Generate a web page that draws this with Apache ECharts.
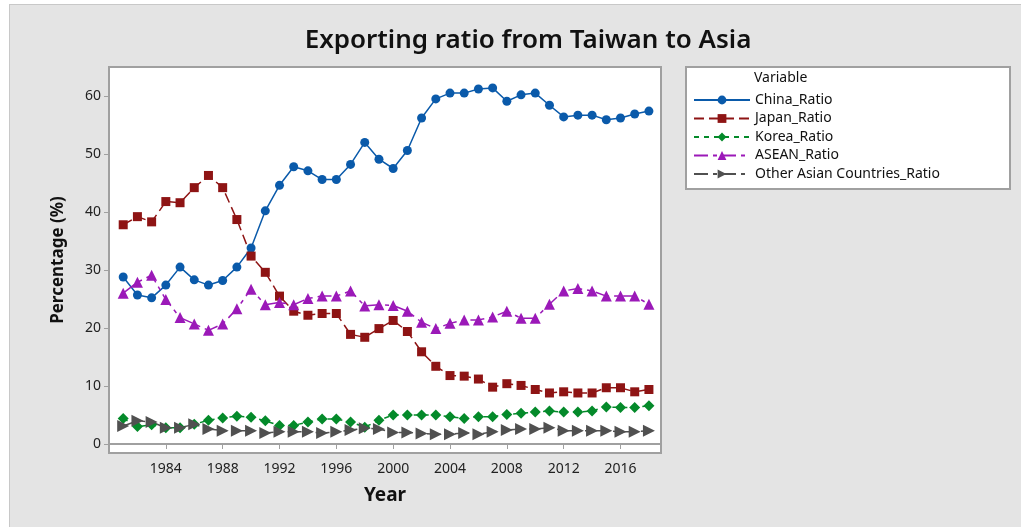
<!DOCTYPE html>
<html>
<head>
<meta charset="utf-8">
<script src="https://cdn.jsdelivr.net/npm/echarts@6/dist/echarts.min.js"></script>
<style>
  html, body { margin: 0; padding: 0; background: #fff; }
  #bg {
    position: absolute; left: 9px; top: 4px; width: 1011px; height: 522px;
    background: #e4e4e4; border: 1px solid #c8c8c8; border-right: none; border-bottom: none;
  }
  #chart { position: absolute; left: 0; top: 0; width: 1021px; height: 527px; }
</style>
</head>
<body>
<div id="bg"></div>
<div id="chart"></div>
<script>
// years 1981 - 2018
const years = [1981, 1982, 1983, 1984, 1985, 1986, 1987, 1988, 1989, 1990,
  1991, 1992, 1993, 1994, 1995, 1996, 1997, 1998, 1999, 2000,
  2001, 2002, 2003, 2004, 2005, 2006, 2007, 2008, 2009, 2010,
  2011, 2012, 2013, 2014, 2015, 2016, 2017, 2018];

const china = [28.8, 25.7, 25.2, 27.4, 30.5, 28.3, 27.4, 28.2, 30.5, 33.8,
  40.2, 44.6, 47.8, 47.1, 45.6, 45.6, 48.2, 52.0, 49.1, 47.5,
  50.6, 56.2, 59.5, 60.5, 60.5, 61.2, 61.4, 59.1, 60.2, 60.5,
  58.4, 56.4, 56.7, 56.7, 55.9, 56.2, 56.9, 57.4];
const japan = [37.8, 39.2, 38.3, 41.8, 41.6, 44.2, 46.3, 44.2, 38.7, 32.4,
  29.6, 25.5, 22.9, 22.2, 22.5, 22.5, 18.9, 18.4, 19.9, 21.3,
  19.4, 15.9, 13.4, 11.8, 11.7, 11.2, 9.8, 10.4, 10.1, 9.4,
  8.8, 9.0, 8.8, 8.8, 9.7, 9.7, 9.0, 9.4];
const korea = [4.4, 3.0, 3.3, 2.8, 2.8, 3.4, 4.1, 4.5, 4.8, 4.6,
  4.0, 3.2, 3.2, 3.8, 4.3, 4.3, 3.8, 2.9, 4.1, 5.0,
  5.0, 5.0, 5.0, 4.7, 4.4, 4.7, 4.7, 5.1, 5.3, 5.5,
  5.7, 5.5, 5.5, 5.7, 6.4, 6.3, 6.3, 6.6];
const asean = [26.0, 27.9, 29.1, 24.9, 21.8, 20.7, 19.6, 20.7, 23.3, 26.7,
  24.0, 24.4, 24.0, 25.1, 25.5, 25.5, 26.4, 23.8, 24.0, 23.9,
  22.9, 21.0, 19.9, 20.8, 21.4, 21.4, 21.9, 22.9, 21.7, 21.7,
  24.1, 26.4, 26.8, 26.4, 25.5, 25.5, 25.5, 24.1];
const other = [3.1, 4.0, 3.8, 2.8, 2.8, 3.4, 2.6, 2.3, 2.3, 2.3,
  1.9, 2.1, 2.1, 2.1, 1.9, 2.1, 2.4, 2.7, 2.6, 2.0,
  2.0, 1.8, 1.7, 1.7, 1.9, 1.7, 2.1, 2.4, 2.6, 2.6,
  2.8, 2.3, 2.3, 2.3, 2.3, 2.1, 2.1, 2.3];

const xTicks = [1984, 1988, 1992, 1996, 2000, 2004, 2008, 2012, 2016];
const yTicks = [0, 10, 20, 30, 40, 50, 60];

const font = "'Noto Sans', 'Open Sans', sans-serif";

function pairs(vals) {
  return years.map((y, i) => [y, vals[i]]);
}

// one entry per series: name, values, colour, marker, dash
function makeSeries(name, vals, color, symbol, size, dash, rotate) {
  return {
    name: name,
    type: "line",
    data: pairs(vals),
    symbol: symbol,
    symbolSize: size,
    symbolRotate: rotate || 0,
    lineStyle: { color: color, width: 1.5, type: dash },
    itemStyle: { color: color },
    emphasis: { disabled: true },
  };
}

let myChart = echarts.init(document.getElementById("chart"));

myChart.setOption({
  backgroundColor: "transparent",
  animation: false,
  textStyle: { fontFamily: font },
  title: {
    text: "Exporting ratio from Taiwan to Asia",
    left: 523,
    top: 23,
    textAlign: "center",
    textStyle: { fontSize: 26, fontWeight: 600, color: "#111", fontFamily: font, letterSpacing: 2 },
  },
  grid: {
    left: 109,
    top: 67,
    width: 552,
    height: 386,
    show: true,
    backgroundColor: "#fff",
    borderColor: "#a0a0a0",
    borderWidth: 2,
  },
  xAxis: {
    type: "value",
    min: 1980,
    max: 2018.85,
    name: "Year",
    nameLocation: "middle",
    nameGap: 33,
    nameTextStyle: { fontSize: 19, fontWeight: "bold", color: "#111" },
    axisLine: { show: true, lineStyle: { color: "#a0a0a0", width: 2 } },
    axisTick: { show: true, length: 5, customValues: xTicks, lineStyle: { color: "#a0a0a0" } },
    axisLabel: {
      customValues: xTicks,
      fontSize: 14,
      color: "#222",
      margin: 9,
      formatter: (v) => String(v),
    },
    splitLine: { show: false },
  },
  yAxis: {
    type: "value",
    min: -1.55,
    max: 65,
    name: "Percentage (%)",
    nameLocation: "middle",
    nameGap: 42,
    nameTextStyle: { fontSize: 17, fontWeight: "bold", color: "#111" },
    axisLine: { show: true, lineStyle: { color: "#a0a0a0", width: 2 } },
    axisTick: { show: true, length: 5, customValues: yTicks, lineStyle: { color: "#a0a0a0" } },
    axisLabel: { customValues: yTicks, fontSize: 14, color: "#222", margin: 8 },
    splitLine: { show: false },
  },
  legend: {
    orient: "vertical",
    left: 688,
    top: 88,
    itemWidth: 56,
    itemHeight: 11,
    itemGap: 4.5,
    textStyle: { fontSize: 14, color: "#111" },
    data: ["China_Ratio", "Japan_Ratio", "Korea_Ratio", "ASEAN_Ratio", "Other Asian Countries_Ratio"],
  },
  graphic: [
    {
      type: "rect",
      z: -1,
      shape: { x: 686, y: 67, width: 324, height: 122 },
      style: { fill: "#fff", stroke: "#a0a0a0", lineWidth: 2 },
    },
    {
      type: "text",
      left: 754,
      top: 71,
      style: { text: "Variable", fontSize: 14, fill: "#111", fontFamily: font },
    },
  ],
  series: [
    makeSeries("China_Ratio", china, "#0a5aaa", "circle", 9, "solid"),
    makeSeries("Japan_Ratio", japan, "#8e1414", "rect", 9, [10, 5]),
    makeSeries("Korea_Ratio", korea, "#048a2a", "diamond", 11, [5, 5]),
    makeSeries("ASEAN_Ratio", asean, "#9b19b8", "triangle", 11, [14, 5, 4, 5]),
    makeSeries("Other Asian Countries_Ratio", other, "#505050", "triangle", 12, [14, 5, 4, 5], -90),
  ],
});
</script>
</body>
</html>
